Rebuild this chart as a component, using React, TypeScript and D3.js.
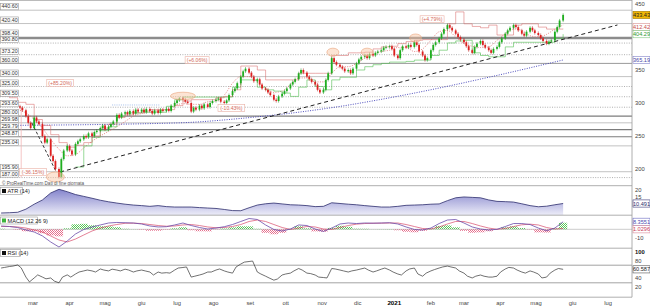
import React from "react";
import * as d3 from "d3";

const W = 650;
const H = 307;
const DAY = 86400000;

// ---------- price candles: closes Mon/Wed/Fri per week, weeks from Mon 17 Feb 2020
const WEEK0 = Date.UTC(2020, 1, 17);
const firstOpen = 295;
const weeklyCloses: (number | null)[][] = [
  [null, 293, 289], [280, 270, 262], [278, 272, 268], [250, 240, 245], [220, 212, 200],
  [188, 215, 228], [235, 228, 222], [238, 242, 245], [250, 248, 254], [250, 256, 258],
  [262, 266, 260], [264, 268, 272], [282, 278, 284], [286, 283, 288], [284, 290, 287],
  [290, 286, 291], [288, 284, 289], [285, 290, 288], [291, 288, 296], [300, 304, 307],
  [305, 302, 300], [287, 293, 290], [296, 292, 298], [294, 300, 303], [305, 307, 302],
  [300, 304, 312], [318, 322, 330], [340, 348, 352], [346, 340, 333], [336, 328, 322],
  [320, 316, 312], [305, 303, 310], [314, 318, 322], [328, 332, 336], [345, 350, 346],
  [340, 336, 332], [328, 320, 316], [320, 335, 345], [368, 362, 358], [355, 352, 348],
  [350, 345, 352], [360, 366, 370], [372, 368, 374], [372, 376, 378], [380, 384, 385],
  [386, 382, 372], [368, 380, 386], [384, 388, 385], [392, 388, 378], [372, 365, 368],
  [380, 388, 392], [398, 405, 412], [418, 414, 410], [405, 400, 396], [392, 386, 380],
  [376, 385, 390], [394, 388, 384], [380, 376, 382], [385, 392, 398], [405, 410, 414],
  [418, 415, 410], [405, 402, 408], [414, 410, 406], [403, 398, 394], [390, 393, 395],
  [408, 415, 425], [433.43],
];

// ---------- weekly indicator samples, from Mon 3 Feb 2020
const GRID0 = Date.UTC(2020, 1, 3);
const redLine = [
  311, 308, 301, 298, 275, 266, 252, 240, 233, 236,
  240, 250, 262, 268, 278, 282, 285, 288, 290, 290,
  290, 296, 303, 305, 305, 305, 308, 310, 320, 356,
  356, 350, 335, 335, 335, 335, 345, 345, 345, 345,
  372, 372, 376, 376, 377, 382, 385, 386, 390, 393,
  395, 396, 396, 396, 420, 438, 420, 416, 414, 418,
  403, 403, 418, 420, 420, 415, 412, 412, 412.42,
];
const greenLine: (number | null)[] = [
  null, null, null, null, null, null, null, null, null,
  203, 235, 248, 258, 264, 280, 285, 285, 286, 286,
  286, 295, 305, 309, 309, 309, 309, 309, 309, 324,
  335, 335, 324, 320, 318, 315, 310, 324, 335, 325,
  320, 335, 339, 339, 350, 355, 358, 360, 362, 362,
  363, 365, 365, 372, 380, 391, 394, 395, 376, 372,
  370, 370, 385, 392, 392, 392, 392, 392, 398, 404.29,
];
const redDotted: (number | null)[] = [
  null, null, 290, 285, 275, 262, 245, 230, 220, 222,
  232, 242, 250, 257, 264, 272, 280, 284, 287, 288,
  290, 296, 299, 298, 298, 302, 303, 312, 330, 340,
  340, 332, 322, 316, 318, 328, 338, 338, 332, 332,
  345, 355, 355, 360, 368, 374, 378, 380, 384, 384,
  378, 382, 395, 408, 410, 400, 390, 386, 384, 385,
  395, 405, 412, 410, 402, 400, 404, 412, 418,
];
const atr = [
  3.8, 4.0, 4.3, 6.5, 10.0, 13.0, 17.9, 20.5, 18.8, 16.8,
  15.5, 14.2, 12.8, 11.7, 10.8, 10.0, 9.4, 9.0, 8.5, 9.0,
  8.3, 8.0, 8.0, 8.0, 7.6, 7.3, 7.0, 6.3, 5.5, 5.4,
  7.5, 9.4, 10.3, 10.8, 10.2, 9.6, 9.4, 9.0, 8.3, 8.5,
  11.0, 10.5, 10.0, 9.6, 9.0, 8.5, 8.0, 8.0, 8.5, 9.2,
  9.4, 9.6, 10.0, 10.2, 12.5, 14.5, 15.1, 14.8, 14.5, 13.0,
  12.0, 11.8, 11.5, 10.3, 9.0, 8.2, 8.6, 9.6, 10.491,
];
const macd = [
  3.7, 3.1, 2.0, -0.8, -3.0, -7.4, -14.1, -19.7, -13.0, -5.2,
  -0.2, 2.6, 4.8, 7.0, 7.6, 7.3, 7.0, 5.9, 3.7, 2.6,
  2.9, 4.8, 7.0, 4.2, 2.0, 0.3, 1.4, 2.9, 5.3, 8.7,
  12.0, 10.9, 4.8, -0.2, -1.9, 0.3, 4.8, 4.2, 0.3, -2.4,
  1.4, 5.9, 7.0, 6.4, 7.0, 6.8, 7.0, 7.3, 5.9, 2.6,
  -0.2, -0.8, 1.4, 6.4, 10.3, 10.9, 7.0, 2.6, 0.3, -0.8,
  0.0, 3.1, 6.4, 6.4, 5.3, 1.4, -1.6, 1.4, 8.3551,
];
const macdSignal = [
  3.1, 3.1, 2.6, 1.4, -0.8, -3.0, -7.4, -11.9, -14.1, -10.8,
  -6.3, -1.9, 1.4, 3.7, 5.3, 6.7, 6.8, 6.4, 5.3, 4.2,
  3.4, 3.7, 4.8, 5.3, 4.2, 2.6, 1.7, 2.0, 3.1, 5.3,
  8.7, 10.3, 8.7, 5.3, 2.0, -0.2, 1.4, 3.1, 2.6, 0.3,
  -0.2, 2.0, 4.2, 5.7, 6.4, 6.7, 6.8, 7.0, 7.0, 5.3,
  3.1, 0.9, 0.3, 2.6, 5.9, 8.7, 8.7, 6.4, 3.7, 1.4,
  0.0, 0.9, 3.1, 5.0, 5.7, 4.8, 2.0, 0.3, 1.0296,
];
// RSI, Mon & Thu from 3 Feb 2020
const rsi = [
  63.6, 65, 67, 68, 70.5, 64, 43, 32, 41, 48,
  43, 39, 41, 34, 30, 43, 48, 43, 50, 54.5,
  57, 59, 57, 54.5, 61.4, 59, 57, 61, 59, 57,
  61, 59, 54.5, 57, 59, 57, 54.5, 47.7, 54.5, 52,
  53, 52, 59, 63.6, 64.8, 66, 43, 45, 47.7, 50,
  54.5, 54.5, 59, 61.4, 57, 54.5, 52, 66, 72.7, 77,
  78.4, 79.5, 54.5, 50, 45, 41, 36, 38.6, 47.7, 50,
  52, 57, 62.5, 59, 52, 51, 47.7, 43, 42, 41,
  62.5, 61.4, 59, 57, 54.5, 57, 59, 61, 63.6, 59,
  54.5, 57, 61, 63.6, 59, 54.5, 50, 47.7, 57, 61.4,
  63.6, 50, 45, 52, 57, 60, 63.6, 66, 68, 66,
  63.6, 57, 52, 45, 41, 45, 47.7, 45, 43, 43,
  45, 54.5, 61.4, 65, 63.6, 59, 54.5, 52, 57, 54.5,
  50, 41, 43, 52, 59, 62.5, 60.587,
];

// ---------- other drawn objects (date, price)
const blueMA: [string, number][] = [
  ["2020-02-03", 266], ["2020-06-29", 269.7], ["2020-09-01", 278], ["2020-11-07", 292.4],
  ["2021-01-15", 314], ["2021-03-23", 339.4], ["2021-05-24", 365.19],
];
const trendLong: [string, number][] = [["2020-03-24", 195.5], ["2021-07-09", 418.2]];
const trendCrash: [string, number][] = [["2020-02-29", 270], ["2020-03-20", 198]];
const blueBoxTop: [string, number][] = [["2020-05-07", 297], ["2020-06-16", 297]];
const measureLine: [string, number][] = [["2020-02-20", 293.6], ["2020-02-20", 187]];

const levelValues = [440.6, 420.4, 398.4, 390.8, 373.2, 360, 340, 325, 309.5, 293.6, 280, 269.98, 259.79, 248.87, 235.04, 195.9, 187];
const levelKinds = ["thin", "thin", "thick", "dot", "dot", "mid", "thin", "dot", "dot", "dot", "dark", "thin", "dark", "dark", "thin", "thin", "dot"];

const pctNotes: [string, string, number][] = [
  ["(-36.15%)", "2020-03-01", 195.5],
  ["(+85.20%)", "2020-03-24", 330.3],
  ["(+6.06%)", "2020-07-18", 365],
  ["(-10.43%)", "2020-08-16", 292.4],
  ["(+4.79%)", "2021-02-02", 427],
];
const circleMarks: [string, number][] = [
  ["2020-03-20", 187.9], ["2020-07-06", 310.6], ["2020-11-10", 377], ["2020-12-09", 377], ["2021-01-19", 398.5],
];
const circleRx = [9, 12.5, 6, 6, 6];
const circleRy = [5, 3.8, 4, 4, 4];

const priceTicks = [450, 350, 300, 250, 200];
const monthLabels = ["mar", "apr", "mag", "giu", "lug", "ago", "set", "ott", "nov", "dic", "2021", "feb", "mar", "apr", "mag", "giu", "lug"];

const FONT = "Liberation Sans, Arial, sans-serif";
const parse = d3.utcParse("%Y-%m-%d");

const levelStyle: Record<string, { stroke: string; w: number; dash?: string }> = {
  thin: { stroke: "#b4b4b4", w: 0.8 },
  mid: { stroke: "#9a9a9a", w: 1 },
  dark: { stroke: "#7c7c7c", w: 1.2 },
  thick: { stroke: "#8c8c8c", w: 2.4 },
  dot: { stroke: "#9c9c9c", w: 0.8, dash: "1 1.4" },
};

export default function App() {
  const x = d3.scaleUtc()
    .domain([new Date(Date.UTC(2020, 2, 1)), new Date(Date.UTC(2021, 6, 1))])
    .range([33, 608]);
  const y = d3.scaleLinear().domain([200, 450]).range([169, 4]);
  const atrY = d3.scaleLinear().domain([0, 20]).range([218.4, 190]);
  const mY = d3.scaleLinear().domain([0, -10]).range([229.3, 238.3]);
  const rY = d3.scaleLinear().domain([0, 100]).range([296, 252]);

  const gDate = (i: number) => new Date(GRID0 + i * 7 * DAY);
  const rDate = (k: number) => new Date(GRID0 + (Math.floor(k / 2) * 7 + (k % 2) * 3) * DAY);
  const PR = 632;

  const candles: { d: Date; o: number; c: number }[] = [];
  let prev = firstOpen;
  weeklyCloses.forEach((wk, w) =>
    wk.forEach((c, j) => {
      if (c == null) return;
      candles.push({ d: new Date(WEEK0 + (w * 7 + j * 2) * DAY), o: prev, c });
      prev = c;
    })
  );

  const stepLine = d3.line<number | null>()
    .defined((v) => v != null)
    .x((_, i) => x(gDate(i)))
    .y((v) => y(v as number))
    .curve(d3.curveStepAfter);
  const smoothLine = d3.line<number | null>()
    .defined((v) => v != null)
    .x((_, i) => x(gDate(i)))
    .y((v) => y(v as number))
    .curve(d3.curveMonotoneX);
  const ptLine = d3.line<[string, number]>()
    .x((p) => x(parse(p[0]) as Date))
    .y((p) => y(p[1]));
  const ptCurve = d3.line<[string, number]>()
    .x((p) => x(parse(p[0]) as Date))
    .y((p) => y(p[1]))
    .curve(d3.curveMonotoneX);

  const atrArea = d3.area<number>()
    .x((_, i) => x(gDate(i)))
    .y0(215)
    .y1((v) => atrY(v));
  const atrLine = d3.line<number>().x((_, i) => x(gDate(i))).y((v) => atrY(v));
  const mLine = d3.line<number>().x((_, i) => x(gDate(i))).y((v) => mY(v));
  const rLine = d3.line<number>().x((_, k) => x(rDate(k))).y((v) => rY(v));

  // left level labels: stack upward when they would collide
  const LBH = 6.2;
  const labelTops: number[] = new Array(levelValues.length);
  const order = levelValues.map((v, i) => i).sort((a, b) => levelValues[a] - levelValues[b]);
  let lastTop = Infinity;
  order.forEach((i) => {
    const t = Math.min(y(levelValues[i]) - LBH - 0.4, lastTop - LBH - 0.3);
    labelTops[i] = t;
    lastTop = t;
  });

  const lastClose = candles[candles.length - 1].c;
  const lastBlue = blueMA[blueMA.length - 1][1];
  const boxes = [
    { v: lastClose, fill: "#f2b705", stroke: "#a07800", color: "#222" },
    { v: redLine[redLine.length - 1], fill: "#fff", stroke: "#d89090", color: "#c85050" },
    { v: greenLine[greenLine.length - 1] as number, fill: "#fff", stroke: "#80c880", color: "#2f9a2f" },
    { v: lastBlue, fill: "#fff", stroke: "#8080c8", color: "#4848a8" },
  ].map((b) => ({ ...b, cy: y(b.v) }));
  const sorted = [...boxes].sort((a, b) => b.cy - a.cy);
  for (let i = 1; i < sorted.length; i++) sorted[i].cy = Math.min(sorted[i].cy, sorted[i - 1].cy - 7);

  const valueBox = (key: string, cy: number, label: string, fill: string, stroke: string, color: string) => (
    <g key={key}>
      <rect x={633} y={cy - 3.6} width={17} height={7.2} fill={fill} stroke={stroke} strokeWidth={0.6} />
      <text x={641.5} y={cy + 2} fontSize={5.6} textAnchor="middle" fill={color} fontFamily={FONT}>{label}</text>
    </g>
  );

  const macdLast = macd[macd.length - 1];
  const sigLast = macdSignal[macdSignal.length - 1];
  const mBoxA = mY(macdLast);
  const mBoxB = Math.max(mY(sigLast), mBoxA + 7.5);

  return (
    <svg width={W} height={H} style={{ position: "absolute", left: 0, top: 0, background: "#fff" }} fontFamily={FONT}>
      <defs>
        <clipPath id="mainClip"><rect x={0} y={0} width={PR} height={185.5} /></clipPath>
        <clipPath id="atrClip"><rect x={0} y={186} width={PR} height={29} /></clipPath>
        <linearGradient id="atrGrad" x1="0" y1="0" x2="0" y2="1">
          <stop offset="0%" stopColor="#8484cc" />
          <stop offset="100%" stopColor="#ececf8" />
        </linearGradient>
        <pattern id="hPos" width="2" height="2" patternUnits="userSpaceOnUse">
          <rect width="1" height="1" fill="#3cbc3c" />
          <rect x="1" y="1" width="1" height="1" fill="#3cbc3c" />
        </pattern>
        <pattern id="hNeg" width="2" height="2" patternUnits="userSpaceOnUse">
          <rect width="1" height="1" fill="#e25478" />
          <rect x="1" y="1" width="1" height="1" fill="#e25478" />
        </pattern>
      </defs>
      <rect x={0} y={0} width={W} height={H} fill="#fff" />

      {/* ---------------- main panel ---------------- */}
      <g clipPath="url(#mainClip)">
        {levelValues.map((v, i) => {
          const s = levelStyle[levelKinds[i]];
          return <line key={"lv" + i} x1={0} x2={PR} y1={y(v)} y2={y(v)} stroke={s.stroke} strokeWidth={s.w} strokeDasharray={s.dash} />;
        })}
        <path d={ptLine(measureLine) || ""} stroke="#f2b8b8" strokeWidth={0.8} fill="none" />
        <path d={ptLine(blueBoxTop) || ""} stroke="#8fb0e6" strokeWidth={0.8} strokeDasharray="1 1.2" fill="none" />
        <path d={ptCurve(blueMA) || ""} stroke="#3a3ab4" strokeWidth={0.9} strokeDasharray="1 1.4" fill="none" />
        <path d={smoothLine(redDotted) || ""} stroke="#e06a6a" strokeWidth={0.8} strokeDasharray="1 1.4" fill="none" />
        <path d={stepLine(greenLine) || ""} stroke="#52bf52" strokeWidth={0.6} fill="none" />
        <path d={stepLine(redLine) || ""} stroke="#d86a6a" strokeWidth={0.55} fill="none" />
        <path d={ptLine(trendCrash) || ""} stroke="#222" strokeWidth={0.9} strokeDasharray="3 2" fill="none" />
        <path d={ptLine(trendLong) || ""} stroke="#222" strokeWidth={1} strokeDasharray="4 3" fill="none" />

        {candles.map((c, i) => {
          const cx = x(c.d);
          const up = c.c >= c.o;
          const col = up ? "#1fae1f" : "#de2020";
          const top = y(Math.max(c.o, c.c));
          const bot = y(Math.min(c.o, c.c));
          const h = Math.max(0.8, bot - top);
          return (
            <g key={"c" + i}>
              <line x1={cx} x2={cx} y1={top - 1.6} y2={top + h + 1.6} stroke={up ? "#148a14" : "#b01818"} strokeWidth={0.5} />
              <rect x={cx - 0.9} y={top} width={1.8} height={h} fill={col} />
            </g>
          );
        })}

        {circleMarks.map((m, i) => (
          <ellipse key={"el" + i} cx={x(parse(m[0]) as Date)} cy={y(m[1])} rx={circleRx[i]} ry={circleRy[i]}
            fill="rgba(248,196,160,0.45)" stroke="#eaa27a" strokeWidth={0.6} />
        ))}

        {pctNotes.map((n, i) => {
          const cx = x(parse(n[1]) as Date);
          const cy = y(n[2]);
          const w = n[0].length * 2.75 + 2;
          return (
            <g key={"pn" + i}>
              <rect x={cx - w / 2} y={cy - 3.4} width={w} height={6.8} fill="rgba(255,255,255,0.85)" stroke="#eab0a4" strokeWidth={0.6} />
              <text x={cx} y={cy + 1.9} fontSize={5.1} textAnchor="middle" fill="#d46a5a">{n[0]}</text>
            </g>
          );
        })}

        {levelValues.map((v, i) => (
          <g key={"ll" + i}>
            <rect x={0.5} y={labelTops[i]} width={18} height={LBH} fill="#fff" stroke="#9a9a9a" strokeWidth={0.6} />
            <text x={9.5} y={labelTops[i] + LBH - 1.4} fontSize={5.3} textAnchor="middle" fill="#333">{v.toFixed(2)}</text>
          </g>
        ))}
        <text x={2} y={184.6} fontSize={4.6} fill="#555">© ProRealTime.com  Dati di fine giornata</text>
      </g>

      {/* ---------------- ATR ---------------- */}
      <g clipPath="url(#atrClip)">
        <path d={atrArea(atr) || ""} fill="url(#atrGrad)" />
        <path d={atrLine(atr) || ""} fill="none" stroke="#2c2c6c" strokeWidth={0.8} />
      </g>
      <rect x={0.5} y={187.5} width={22} height={7} fill="#fff" stroke="#999" strokeWidth={0.6} />
      <rect x={2} y={189} width={4} height={4} fill="#111" />
      <text x={7.5} y={193.2} fontSize={5.6} fill="#222">ATR (14)</text>

      {/* ---------------- MACD ---------------- */}
      <line x1={0} x2={PR} y1={mY(0)} y2={mY(0)} stroke="#a8a8a8" strokeWidth={0.6} />
      {macd.map((v, i) => {
        const h = v - macdSignal[i];
        const cx = x(gDate(i));
        return (
          <rect key={"h" + i} x={cx - 4.1} width={8.2} y={Math.min(mY(h), mY(0))} height={Math.abs(mY(h) - mY(0))}
            fill={h >= 0 ? "url(#hPos)" : "url(#hNeg)"} opacity={0.85} />
        );
      })}
      <path d={mLine(macdSignal) || ""} fill="none" stroke="#d84a6a" strokeWidth={0.7} />
      <path d={mLine(macd) || ""} fill="none" stroke="#6a4aa8" strokeWidth={0.8} />
      <rect x={0.5} y={217} width={37} height={7} fill="#fff" stroke="#999" strokeWidth={0.6} />
      <rect x={2} y={218.5} width={4} height={4} fill="#3cb43c" />
      <text x={7.5} y={222.7} fontSize={5.6} fill="#222">MACD (12 26 9)</text>

      {/* ---------------- RSI ---------------- */}
      <line x1={0} x2={PR} y1={rY(70)} y2={rY(70)} stroke="#8c8c8c" strokeWidth={0.8} />
      <line x1={0} x2={PR} y1={rY(30)} y2={rY(30)} stroke="#8c8c8c" strokeWidth={0.8} />
      <path d={rLine(rsi) || ""} fill="none" stroke="#333" strokeWidth={0.7} />
      <rect x={0.5} y={249.5} width={20} height={7} fill="#fff" stroke="#999" strokeWidth={0.6} />
      <rect x={2} y={251} width={4} height={4} fill="#111" />
      <text x={7.5} y={255.2} fontSize={5.6} fill="#222">RSI (14)</text>

      {/* ---------------- frame ---------------- */}
      <line x1={0} x2={PR} y1={0.5} y2={0.5} stroke="#aaa" strokeWidth={0.8} />
      {[185.7, 215.2, 248.2, 297.2].map((yy) => (
        <line key={"sep" + yy} x1={0} x2={PR} y1={yy} y2={yy} stroke="#9a9a9a" strokeWidth={0.8} />
      ))}
      <line x1={PR} x2={PR} y1={0} y2={297.2} stroke="#9a9a9a" strokeWidth={0.8} />

      {/* right axis */}
      {priceTicks.map((t) => (
        <text key={"pt" + t} x={635} y={y(t) + 2} fontSize={5.8} fill="#444">{t}</text>
      ))}
      {boxes.map((b, i) => valueBox("vb" + i, b.cy, b.v.toFixed(2), b.fill, b.stroke, b.color))}

      {[20, 15].map((t) => (
        <text key={"at" + t} x={635} y={atrY(t) + 2} fontSize={5.8} fill="#444">{t}</text>
      ))}
      {valueBox("atrv", atrY(atr[atr.length - 1]), atr[atr.length - 1].toFixed(3), "#fff", "#3a3a7a", "#2c2c6c")}

      <text x={635} y={mY(-10) + 2} fontSize={5.8} fill="#444">-10</text>
      {valueBox("mA", mBoxA, macdLast.toFixed(4), "#fff", "#6a6ac0", "#4a4ab0")}
      {valueBox("mB", mBoxB, sigLast.toFixed(4), "#fff", "#d88a9a", "#c8405a")}

      <text x={635} y={rY(100) + 2} fontSize={5.8} fill="#111" fontWeight="bold">100</text>
      {[80, 40, 20].map((t) => (
        <text key={"rt" + t} x={635} y={rY(t) + 2} fontSize={5.8} fill="#444">{t}</text>
      ))}
      {valueBox("rsiv", rY(rsi[rsi.length - 1]), rsi[rsi.length - 1].toFixed(3), "#fff", "#555", "#222")}

      {/* x axis */}
      {monthLabels.map((m, i) => {
        const d = new Date(Date.UTC(2020, 2 + i, 1));
        const bold = m === "2021";
        return (
          <text key={"m" + i} x={x(d)} y={305} fontSize={bold ? 6.2 : 5.8} textAnchor="middle"
            fill={bold ? "#000" : "#444"} fontWeight={bold ? "bold" : "normal"}>{m}</text>
        );
      })}
    </svg>
  );
}
